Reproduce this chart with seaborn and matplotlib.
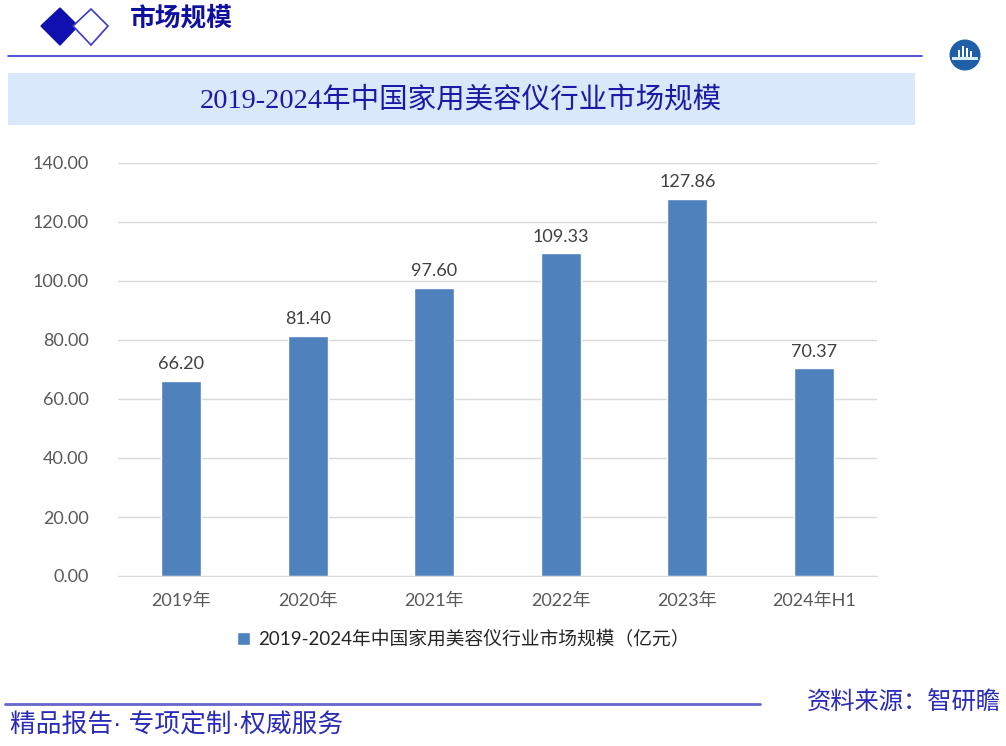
import numpy as np
import pandas as pd
import matplotlib
matplotlib.use('Agg')
import matplotlib.pyplot as plt
from matplotlib.patches import Rectangle, Polygon, Circle
import seaborn as sns

sns.set_style("white")
plt.rcParams['font.family'] = ['Lato', 'Noto Sans CJK SC', 'DejaVu Sans']

# data
years = ['2019年', '2020年', '2021年', '2022年', '2023年', '2024年H1']
market_size = [66.20, 81.40, 97.60, 109.33, 127.86, 70.37]
series_name = '2019-2024年中国家用美容仪行业市场规模（亿元）'
chart_title = '2019-2024年中国家用美容仪行业市场规模'

df = pd.DataFrame({'year': years, 'value': market_size})

W, H = 1006, 746
fig = plt.figure(figsize=(W / 100, H / 100), dpi=100)
fig.patch.set_facecolor('white')

# helper: pixel -> figure fraction
def fx(x):
    return x / W

def fy(y):
    return 1 - y / H

navy = '#1a1aa6'

# header decoration
fig.patches.append(Polygon([(fx(41), fy(26)), (fx(60), fy(8)), (fx(78), fy(26)), (fx(60), fy(45))],
                           closed=True, transform=fig.transFigure, facecolor='#1010b0', edgecolor='#1010b0'))
fig.patches.append(Polygon([(fx(73), fy(26)), (fx(91), fy(9)), (fx(108), fy(26)), (fx(91), fy(45))],
                           closed=True, transform=fig.transFigure, facecolor='white', edgecolor='#3a3ac8', lw=1.2))
fig.text(fx(130), fy(18), '市场规模', fontsize=18.5, color='#1010a0', fontweight='bold',
         family=['Noto Sans CJK SC'], va='center', ha='left')
fig.add_artist(plt.Line2D([fx(8), fx(922)], [fy(56), fy(56)], color='#3333cc', lw=1.2))

# logo (inches so it stays round)
fig.patches.append(Circle((9.65, (H - 55) / 100), 0.155, transform=fig.dpi_scale_trans,
                          facecolor='#1f5fa8', edgecolor='none'))
fig.patches.append(Rectangle((9.52, (H - 60) / 100), 0.26, 0.03, transform=fig.dpi_scale_trans,
                             facecolor='#d8ecfa', edgecolor='none'))
for dx, hh in [(-0.06, 0.07), (-0.02, 0.11), (0.02, 0.09), (0.06, 0.06)]:
    fig.patches.append(Rectangle((9.65 + dx - 0.012, (H - 57) / 100), 0.024, hh, transform=fig.dpi_scale_trans,
                                 facecolor='white', edgecolor='none'))

# title band
fig.patches.append(Rectangle((fx(8), fy(125)), (915 - 8) / W, (125 - 73) / H, transform=fig.transFigure,
                             facecolor='#dae8fb', edgecolor='none'))
fig.text(fx(461), fy(100), chart_title, fontsize=20.5, color=navy,
         family=['Liberation Serif', 'Noto Sans CJK SC'], ha='center', va='center')

# main chart
ax = fig.add_axes([fx(118), fy(576), (877 - 118) / W, (576 - 163) / H])
sns.barplot(data=df, x='year', y='value', color='#4f81bd', saturation=1, width=0.32,
            ax=ax, label=series_name)
ax.set_ylim(0, 140)
ax.set_xlim(-0.5, len(years) - 0.5)
ax.set_yticks(np.arange(0, 141, 20))
ax.set_yticklabels([f'{v:.2f}' for v in np.arange(0, 141, 20)])
ax.yaxis.grid(True, color='#d9d9d9', lw=1)
ax.set_axisbelow(True)
for s in ['top', 'right', 'left']:
    ax.spines[s].set_visible(False)
ax.spines['bottom'].set_color('#d9d9d9')
ax.tick_params(axis='both', length=0, labelsize=13, labelcolor='#595959')
ax.tick_params(axis='y', pad=21)
ax.tick_params(axis='x', pad=12)
ax.set_xlabel('')
ax.set_ylabel('')
for i, v in enumerate(market_size):
    ax.text(i, v + 3, f'{v:.2f}', ha='center', va='bottom', fontsize=13, color='#404040')

ax.legend(loc='upper center', bbox_to_anchor=(0.455, -0.09), frameon=False, fontsize=13.5,
          handlelength=0.7, handleheight=0.7, handletextpad=0.4, labelcolor='#262626')

# footer
fig.add_artist(plt.Line2D([fx(5), fx(760)], [fy(704), fy(704)], color='#6666cc', lw=2))
fig.text(fx(10), fy(725), '精品报告· 专项定制·权威服务', fontsize=18.5, color='#2a2ab8',
         family=['Liberation Sans', 'Noto Sans CJK SC'], ha='left', va='center')
fig.text(fx(1001), fy(703), '资料来源：智研瞻', fontsize=17.5, color='#2a2ab8',
         family=['Noto Sans CJK SC'], ha='right', va='center')

fig.savefig('out.png', dpi=100)
